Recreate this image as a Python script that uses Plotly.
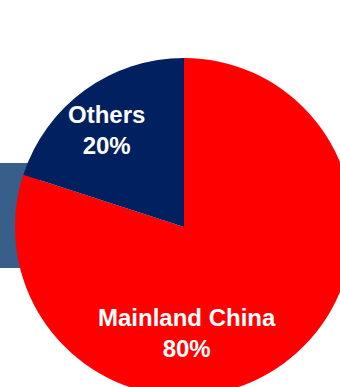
import plotly.graph_objects as go

# Share of supply by origin
labels = ["Others", "Mainland China"]
shares = [20, 80]
colors = ["#002060", "#FF0000"]

W, H = 360, 410  # canvas is larger than the view; the pie runs off the right/bottom edge

# slices laid out clockwise from 12 o'clock: Mainland China first, Others closes the circle
fig = go.Figure(
    go.Pie(
        labels=labels[::-1],
        values=shares[::-1],
        sort=False,
        direction="clockwise",
        rotation=0,
        marker=dict(colors=colors[::-1], line=dict(width=0)),
        textinfo="none",
        hoverinfo="label+percent",
        showlegend=False,
        domain=dict(x=[15 / W, 353 / W], y=[1 - 396 / H, 1 - 58 / H]),
    )
)

# slice labels
label_pos = {"Others": (106, 130), "Mainland China": (187, 333)}
for lab, val in zip(labels, shares):
    px, py = label_pos[lab]
    fig.add_annotation(
        x=px / W, y=1 - py / H, xref="paper", yref="paper",
        text=f"<b>{lab}<br>{val}%</b>", showarrow=False,
        font=dict(family="Liberation Sans, Arial, sans-serif", size=24, color="white"),
        align="center", xanchor="center", yanchor="middle",
    )

# steel-blue band behind the pie on the left
fig.add_shape(
    type="rect", xref="paper", yref="paper", layer="below",
    x0=0, x1=40 / W, y0=1 - 268 / H, y1=1 - 163 / H,
    fillcolor="#375F8A", line=dict(width=0),
)

fig.update_layout(
    width=W, height=H,
    margin=dict(l=0, r=0, t=0, b=0),
    paper_bgcolor="white", plot_bgcolor="white",
)

fig.write_html(
    "out.html",
    post_script="document.documentElement.style.overflow='hidden';"
                "document.body.style.overflow='hidden';"
                "document.body.style.margin='0';",
)
